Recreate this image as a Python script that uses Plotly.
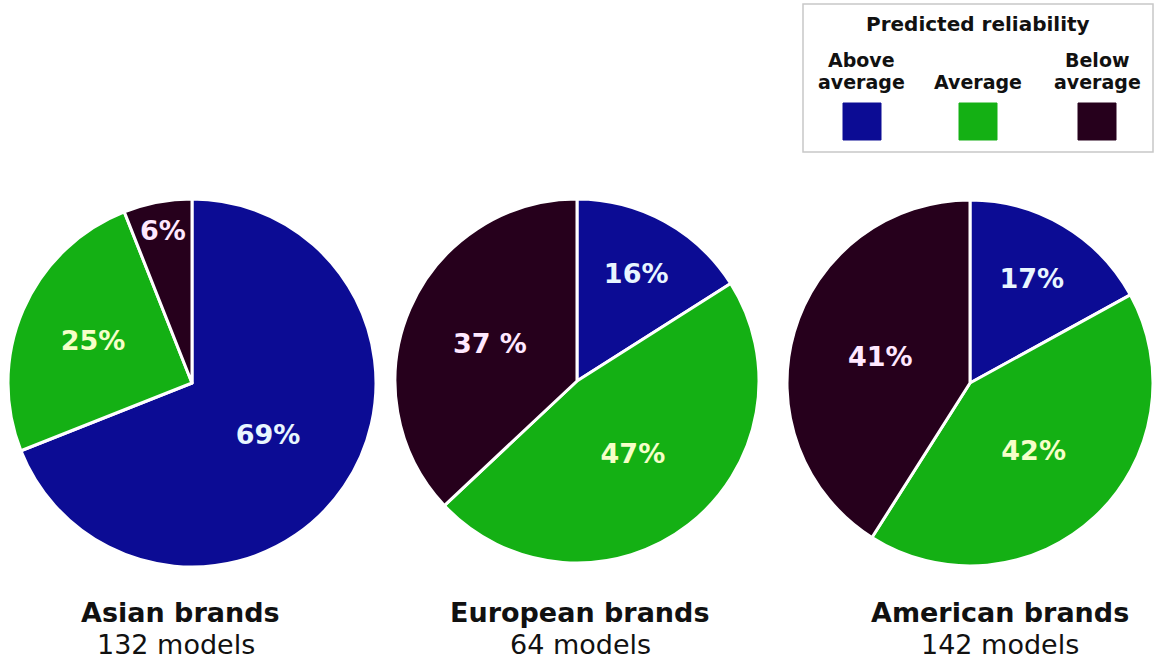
import plotly.graph_objects as go

# ---- data ----
categories = ["Above average", "Average", "Below average"]
regions = ["Asian brands", "European brands", "American brands"]
model_counts = ["132 models", "64 models", "142 models"]
asian_values = [69, 25, 6]
european_values = [16, 47, 37]
american_values = [17, 42, 41]
asian_text = ["69%", "25%", "6%"]
european_text = ["16%", "47%", "37 %"]
american_text = ["17%", "42%", "41%"]
legend_title = "Predicted reliability"

# ---- style ----
colors = ["#0c0c94", "#14b014", "#26001c"]
text_colors = ["#e8f6ff", "#f6ffc8", "#ffe8ff"]
W, H = 1163, 663
BOLD = "DejaVu Sans"
REG = "DejaVu Sans"

# pie centres / radius in pixels (layout)
pies = [
    (asian_values, asian_text, 192, 383, 184),
    (european_values, european_text, 577, 381, 182),
    (american_values, american_text, 970, 383, 183),
]
title_x = [180, 580, 1000]
count_x = [176, 580, 1000]

fig = go.Figure()
for vals, txt, cx, cy, r in pies:
    fig.add_trace(go.Pie(
        labels=categories,
        values=vals,
        text=txt,
        textinfo="text",
        textposition="inside",
        insidetextorientation="horizontal",
        sort=False,
        direction="clockwise",
        rotation=0,
        marker=dict(colors=colors, line=dict(color="white", width=3)),
        textfont=dict(family=BOLD, size=27, color=text_colors, weight="bold"),
        domain=dict(x=[(cx - r) / W, (cx + r) / W],
                    y=[1 - (cy + r) / H, 1 - (cy - r) / H]),
        showlegend=False,
        hoverinfo="label+percent",
    ))

annotations = []
for name, cnt, x, x2 in zip(regions, model_counts, title_x, count_x):
    annotations.append(dict(x=x / W, y=1 - 612 / H, xref="paper", yref="paper",
                            text=f"<b>{name}</b>", showarrow=False,
                            font=dict(family=BOLD, size=27, color="#111111"),
                            xanchor="center", yanchor="middle"))
    annotations.append(dict(x=x2 / W, y=1 - 644 / H, xref="paper", yref="paper",
                            text=cnt, showarrow=False,
                            font=dict(family=REG, size=27, color="#111111"),
                            xanchor="center", yanchor="middle"))

# legend box
shapes = [dict(type="rect", xref="paper", yref="paper",
               x0=803 / W, x1=1153 / W, y0=1 - 152 / H, y1=1 - 4 / H,
               line=dict(color="#c8c8c8", width=1.5), fillcolor="white")]
annotations.append(dict(x=978 / W, y=1 - 24 / H, xref="paper", yref="paper",
                        text=f"<b>{legend_title}</b>", showarrow=False,
                        font=dict(family=BOLD, size=20, color="#111111"),
                        xanchor="center", yanchor="middle"))
legend_x = [862, 978, 1097]
for cat, col, lx in zip(categories, colors, legend_x):
    words = cat.split(" ")
    rows = [82] if len(words) == 1 else [60, 82]
    for w, ry in zip(words, rows):
        annotations.append(dict(x=lx / W, y=1 - ry / H, xref="paper", yref="paper",
                                text=f"<b>{w}</b>", showarrow=False,
                                font=dict(family=BOLD, size=19, color="#111111"),
                                xanchor="center", yanchor="middle"))
    shapes.append(dict(type="rect", xref="paper", yref="paper",
                       x0=(lx - 19) / W, x1=(lx + 19) / W,
                       y0=1 - 140 / H, y1=1 - 103 / H,
                       line=dict(color=col, width=1), fillcolor=col))

fig.update_layout(
    width=W, height=H,
    margin=dict(l=0, r=0, t=0, b=0),
    paper_bgcolor="white", plot_bgcolor="white",
    shapes=shapes, annotations=annotations,
)

fig.write_html("out.html")
